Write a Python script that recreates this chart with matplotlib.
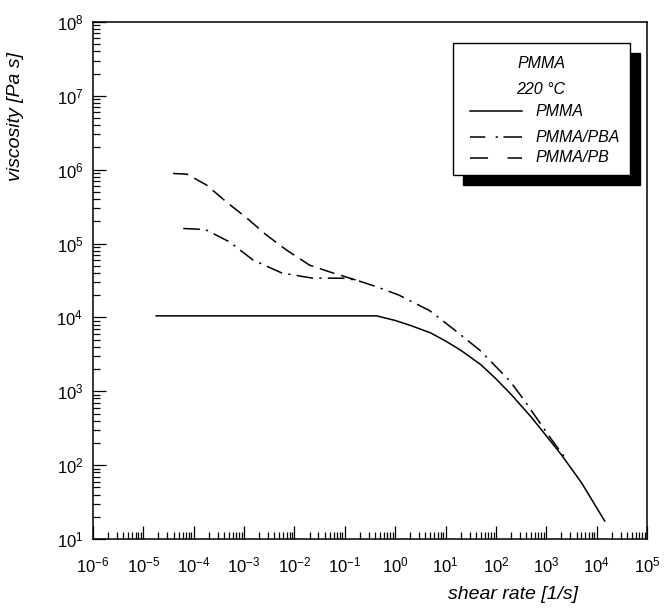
import numpy as np
import matplotlib
matplotlib.use("Agg")
import matplotlib.pyplot as plt
from matplotlib.lines import Line2D
from matplotlib.patches import Rectangle
from matplotlib.ticker import LogLocator, LogFormatterMathtext, NullFormatter

plt.rcParams.update({
    "font.family": ["Liberation Sans", "DejaVu Sans"],
    "mathtext.fontset": "custom",
    "mathtext.rm": "Liberation Sans",
    "mathtext.it": "Liberation Sans:italic",
    "lines.scale_dashes": False,
})

# viscosity curves at 220 C, read as (shear rate [1/s], viscosity [Pa s])
pmma_rate = [1.8e-5, 1e-4, 1e-3, 1e-2, 1e-1, 0.43, 1.0, 2.0, 5.0, 10.0, 20.0,
             50.0, 100.0, 200.0, 500.0, 1000.0, 2000.0, 5000.0, 1.45e4]
pmma_visc = [1.05e4, 1.05e4, 1.05e4, 1.05e4, 1.05e4, 1.05e4, 9.1e3, 7.8e3, 6.2e3,
             4.8e3, 3.6e3, 2.3e3, 1.48e3, 910.0, 450.0, 250.0, 138.0, 58.0, 17.5]

pba_rate = [6.2e-5, 1.7e-4, 5.2e-4, 1.5e-3, 5.6e-3, 2.3e-2, 9.1e-2, 0.17, 0.43,
            1.2, 4.9, 15.0, 48.0, 186.0, 340.0, 1290.0, 2500.0]
pba_visc = [1.6e5, 1.55e5, 1.05e5, 6.0e4, 4.0e4, 3.4e4, 3.4e4, 3.2e4, 2.6e4,
            2.0e4, 1.23e4, 6.8e3, 3.6e3, 1.4e3, 810.0, 220.0, 120.0]

pb_rate = [3.9e-5, 7.4e-5, 1.8e-4, 4.6e-4, 1.15e-3, 2.8e-3, 7.1e-3, 2.0e-2,
           5.8e-2, 0.17]
pb_visc = [8.9e5, 8.7e5, 6.2e5, 3.6e5, 2.2e5, 1.3e5, 8.1e4, 5.1e4, 4.0e4, 3.2e4]

x_lim = (1e-6, 1e5)
y_lim = (1e1, 1e8)

solid = dict(color="black", lw=1.1, ls="-")
dashdot = dict(color="black", lw=1.1, ls=(0, (12, 4.5, 1.6, 4.5)))
dashed = dict(color="black", lw=1.1, ls=(0, (11, 5)))

fig = plt.figure(figsize=(6.66, 6.10), dpi=100)
ax = fig.add_axes([0.1396, 0.1164, 0.8318, 0.8475])

ax.plot(pmma_rate, pmma_visc, **solid)
ax.plot(pba_rate, pba_visc, **dashdot)
ax.plot(pb_rate, pb_visc, **dashed)

ax.set_xscale("log")
ax.set_yscale("log")
ax.set_xlim(*x_lim)
ax.set_ylim(*y_lim)

for axis in (ax.xaxis, ax.yaxis):
    axis.set_major_locator(LogLocator(base=10, numticks=30))
    axis.set_minor_locator(LogLocator(base=10, subs=np.arange(2, 10), numticks=300))
    axis.set_major_formatter(LogFormatterMathtext())
    axis.set_minor_formatter(NullFormatter())

ax.tick_params(which="both", direction="in", top=False, right=False, width=0.9,
               labelsize=12)
ax.tick_params(which="major", length=9.5)
ax.tick_params(which="minor", length=5)
ax.tick_params(axis="x", pad=12)
ax.tick_params(axis="y", pad=7)
for sp in ax.spines.values():
    sp.set_linewidth(1.1)

# axis titles sit off-centre: the y title near the top, the x title to the right
ax.set_ylabel("viscosity [Pa s]", style="italic", fontsize=14)
ax.yaxis.set_label_coords(-0.139, 0.818)
ax.set_xlabel("shear rate [1/s]", style="italic", fontsize=14)
ax.xaxis.set_label_coords(0.758, -0.108)
ax.xaxis.label.set_va("center")
ax.yaxis.label.set_va("center")

# boxed legend with a drop shadow
W, H = 666.0, 610.0


def fx(px):
    return px / W


def fy(py):
    return 1 - py / H


fig.patches.append(Rectangle((fx(463), fy(185)), (640 - 463) / W, (185 - 53) / H,
                             transform=fig.transFigure, facecolor="black",
                             edgecolor="black", zorder=5))
fig.patches.append(Rectangle((fx(453), fy(175)), (630 - 453) / W, (175 - 43) / H,
                             transform=fig.transFigure, facecolor="white",
                             edgecolor="black", lw=1.0, zorder=6))

fig.text(fx(541), fy(63), "PMMA", style="italic", fontsize=11.5,
         ha="center", va="center", zorder=7)
fig.text(fx(541), fy(89), "220 °C", style="italic", fontsize=11.5,
         ha="center", va="center", zorder=7)

# legend samples use their own spacing so each pattern reads within the short key
key_styles = [
    ("PMMA", dict(color="black", lw=1.1, ls="-"), 111),
    ("PMMA/PBA", dict(color="black", lw=1.1, ls=(0, (11, 7.5, 1.6, 4, 20))), 137),
    ("PMMA/PB", dict(color="black", lw=1.1, ls=(0, (13, 14, 20, 5))), 158),
]
for label, style, py in key_styles:
    fig.lines.append(Line2D([fx(470), fx(522)], [fy(py), fy(py)],
                            transform=fig.transFigure, zorder=7, **style))
    fig.text(fx(535), fy(py), label, style="italic", fontsize=11.5,
             ha="left", va="center", zorder=7)

fig.savefig("out.png", dpi=100, facecolor="white")
